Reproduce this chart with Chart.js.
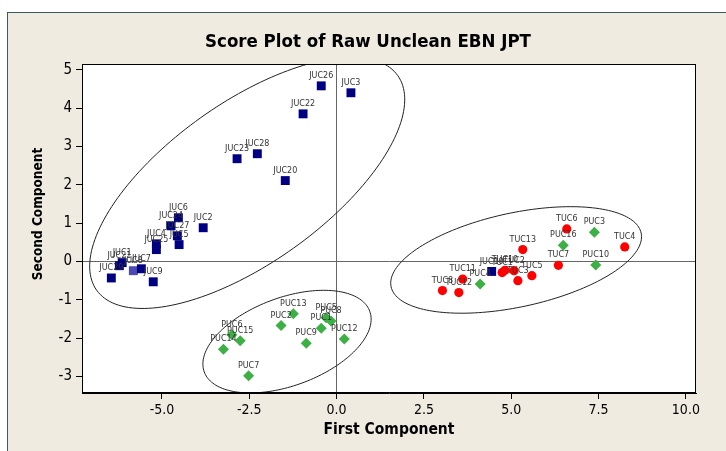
<!DOCTYPE html>
<html>
<head>
<meta charset="utf-8">
<title>Score Plot of Raw Unclean EBN JPT</title>
<script src="https://cdn.jsdelivr.net/npm/chart.js@4.4.1/dist/chart.umd.min.js"></script>
<style>
  html, body { margin: 0; padding: 0; background: #fff; }
  #frame { position: absolute; left: 7px; top: 12px; right: 0; bottom: 0; background: #efebe1;
           border-left: 1px solid #3d5866; border-top: 1px solid #3d5866; }
  #wrap { position: absolute; left: 0; top: 0; width: 726px; height: 451px; }
</style>
</head>
<body>
<div id="frame"></div>
<div id="wrap"><canvas id="scoreChart"></canvas></div>
<script>
// Scores: first component (x) and second component (y)
const jucLabels = ['JUC26', 'JUC3', 'JUC22', 'JUC28', 'JUC23', 'JUC20', 'JUC6', 'JUC24', 'JUC27', 'JUC5',
                   'JUC2', 'JUC4', 'JUC25', 'JUC1', 'JUC21', 'JUC8', 'JUC7', 'JUC29', 'JUC9', 'JUC10'];
const jucX = [-0.44, 0.41, -0.96, -2.27, -2.85, -1.47, -4.53, -4.74, -4.56, -4.51,
              -3.82, -5.16, -5.16, -6.14, -6.22, -5.82, -5.59, -6.45, -5.25, 4.44];
const jucY = [4.58, 4.40, 3.85, 2.81, 2.68, 2.11, 1.14, 0.93, 0.67, 0.44,
              0.88, 0.46, 0.31, -0.03, -0.11, -0.24, -0.19, -0.43, -0.53, -0.26];

const pucLabels = ['PUC13', 'PUC2', 'PUC5', 'PUC8', 'PUC1', 'PUC12', 'PUC9', 'PUC6', 'PUC15', 'PUC14',
                   'PUC7', 'PUC4', 'PUC3', 'PUC16', 'PUC10'];
const pucX = [-1.24, -1.59, -0.30, -0.16, -0.44, 0.22, -0.87, -3.00, -2.76, -3.24,
              -2.52, 4.11, 7.38, 6.49, 7.42];
const pucY = [-1.36, -1.67, -1.47, -1.55, -1.74, -2.02, -2.13, -1.91, -2.07, -2.29,
              -2.98, -0.59, 0.76, 0.42, -0.09];

const tucLabels = ['TUC13', 'TUC1', 'TUC10', 'TUC2', 'TUC3', 'TUC5', 'TUC11', 'TUC8', 'TUC12', 'TUC6',
                   'TUC4', 'TUC7'];
const tucX = [5.33, 4.74, 4.82, 5.08, 5.19, 5.59, 3.61, 3.03, 3.50, 6.59, 8.25, 6.35];
const tucY = [0.31, -0.29, -0.23, -0.24, -0.50, -0.37, -0.46, -0.76, -0.81, 0.85, 0.38, -0.10];

const xTicks = [-5, -2.5, 0, 2.5, 5, 7.5, 10];
const yTicks = [-3, -2, -1, 0, 1, 2, 3, 4, 5];

// group outlines: centre and two conjugate semi-axes, in data units
const groupEllipses = [
    { cx: -2.56, cy: 2.05, ax: 4.31, ay: 2.80, bx: 1.33, by: -1.70 },
    { cx: -1.42, cy: -2.09, ax: 2.37, ay: 0.79, bx: 0.43, by: -1.08 },
    { cx: 5.14, cy: 0.04, ax: 3.58, ay: 0.70, bx: 0.28, by: -1.20 }
];

const toPoints = (xs, ys) => xs.map((v, i) => ({ x: v, y: ys[i] }));
const FONT = '"DejaVu Sans Condensed", "DejaVu Sans", sans-serif';

// white plot area with black frame, chart title and y axis title
const plotFrame = {
    id: 'plotFrame',
    beforeDraw(chart) {
        const { ctx, chartArea: a } = chart;
        ctx.save();
        ctx.fillStyle = '#fff';
        ctx.fillRect(a.left, a.top, a.width, a.height);
        ctx.restore();
    },
    afterDraw(chart) {
        const { ctx, chartArea: a } = chart;
        ctx.save();
        ctx.strokeStyle = '#000';
        ctx.lineWidth = 1;
        ctx.strokeRect(a.left + 0.5, a.top + 0.5, a.width - 1, a.height - 1);
        ctx.fillStyle = '#000';
        ctx.textAlign = 'center';
        ctx.textBaseline = 'middle';
        ctx.font = 'bold 18.5px ' + FONT;
        ctx.fillText('Score Plot of Raw Unclean EBN JPT', 368, 42);
        ctx.translate(38, 214);
        ctx.rotate(-Math.PI / 2);
        ctx.font = 'bold 13.5px ' + FONT;
        ctx.fillText('Second Component', 0, 0);
        ctx.restore();
    }
};

const ellipses = {
    id: 'ellipses',
    afterDatasetsDraw(chart) {
        const { ctx, chartArea: a, scales: { x, y } } = chart;
        ctx.save();
        ctx.beginPath();
        ctx.rect(a.left, a.top, a.width, a.height);
        ctx.clip();
        ctx.strokeStyle = '#222';
        ctx.lineWidth = 1;
        groupEllipses.forEach(e => {
            ctx.beginPath();
            for (let k = 0; k <= 180; k++) {
                const t = k / 180 * 2 * Math.PI;
                const px = x.getPixelForValue(e.cx + e.ax * Math.cos(t) + e.bx * Math.sin(t));
                const py = y.getPixelForValue(e.cy + e.ay * Math.cos(t) + e.by * Math.sin(t));
                if (k === 0) ctx.moveTo(px, py); else ctx.lineTo(px, py);
            }
            ctx.closePath();
            ctx.stroke();
        });
        ctx.restore();
    }
};

const pointLabels = {
    id: 'pointLabels',
    afterDatasetsDraw(chart) {
        const ctx = chart.ctx;
        ctx.save();
        ctx.font = '8px "DejaVu Sans", sans-serif';
        ctx.fillStyle = '#333';
        ctx.textAlign = 'center';
        ctx.textBaseline = 'middle';
        chart.data.datasets.forEach((ds, i) => {
            chart.getDatasetMeta(i).data.forEach((pt, j) => {
                ctx.fillText(ds.names[j], pt.x, pt.y - 10);
            });
        });
        ctx.restore();
    }
};

const zeroGrid = c => (c.tick && c.tick.value === 0) ? '#666' : 'rgba(0,0,0,0)';

new Chart(document.getElementById('scoreChart'), {
    type: 'scatter',
    data: {
        datasets: [
            {
                label: 'JUC', names: jucLabels, data: toPoints(jucX, jucY),
                pointStyle: 'rect', pointRadius: 6.3, borderWidth: 0,
                backgroundColor: c => jucLabels[c.dataIndex] === 'JUC8' ? '#4a4ab0' : '#000080'
            },
            {
                label: 'PUC', names: pucLabels, data: toPoints(pucX, pucY),
                pointStyle: 'rectRot', pointRadius: 5.5, borderWidth: 0,
                backgroundColor: '#3cb044'
            },
            {
                label: 'TUC', names: tucLabels, data: toPoints(tucX, tucY),
                pointStyle: 'circle', pointRadius: 4.6, borderWidth: 0,
                backgroundColor: '#ff0000'
            }
        ]
    },
    options: {
        responsive: true,
        maintainAspectRatio: false,
        animation: false,
        layout: { padding: { top: 64, left: 0, right: 30, bottom: 0 } },
        plugins: {
            legend: { display: false },
            tooltip: { enabled: false }
        },
        scales: {
            x: {
                type: 'linear', min: -7.29, max: 10.29,
                afterBuildTicks: axis => { axis.ticks = xTicks.map(v => ({ value: v })); },
                afterFit: scale => { scale.height = 58; },
                ticks: { color: '#000', padding: 3, font: { family: FONT, size: 14 }, callback: v => v.toFixed(1) },
                grid: { color: zeroGrid, tickColor: '#000', tickLength: 6, lineWidth: 1 },
                border: { display: true, color: '#000' },
                title: { display: true, text: 'First Component', color: '#000',
                         font: { family: FONT, size: 15.5, weight: 'bold' }, padding: { top: 4, bottom: 12 } }
            },
            y: {
                type: 'linear', min: -3.43, max: 5.15,
                afterBuildTicks: axis => { axis.ticks = yTicks.map(v => ({ value: v })); },
                afterFit: scale => { scale.width = 82; },
                ticks: { color: '#000', padding: 4, font: { family: FONT, size: 15 } },
                grid: { color: zeroGrid, tickColor: '#000', tickLength: 6, lineWidth: 1 },
                border: { display: true, color: '#000' }
            }
        }
    },
    plugins: [plotFrame, ellipses, pointLabels]
});
</script>
</body>
</html>
